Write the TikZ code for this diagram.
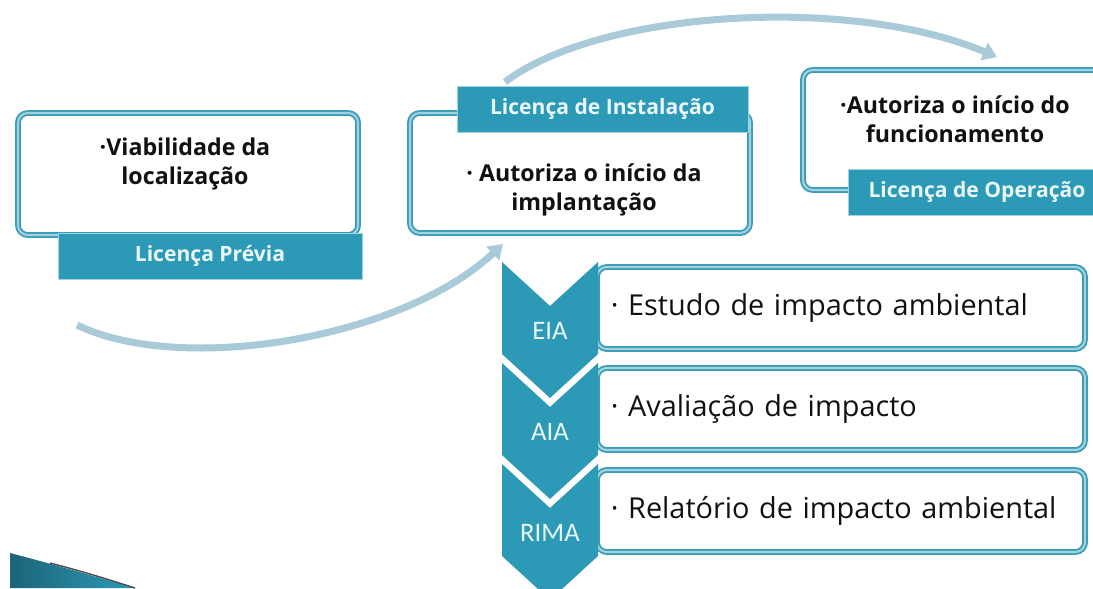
\documentclass[tikz,border=0pt]{standalone}
\usepackage{fontspec}
\setmainfont{Open Sans}
\newfontfamily\chevfont{Carlito}
\usetikzlibrary{arrows.meta,positioning}

\definecolor{tealfill}{HTML}{2C9AB7}
\definecolor{tealline}{HTML}{3A9CB5}
\definecolor{tealpale}{HTML}{9FD3E0}
\definecolor{arcblue}{HTML}{A9CAD8}
\definecolor{labeltxt}{HTML}{E9F7F9}
\definecolor{bodytxt}{HTML}{111111}

\begin{document}
\begin{tikzpicture}[x=0.025cm,y=-0.025cm,
  licbox/.style={draw=tealline, double=tealpale, double distance=1.5pt, line width=1.3pt, rounded corners=7pt, fill=white, inner sep=0pt},
  lictag/.style={fill=tealfill, draw=tealpale, line width=0.6pt, text=labeltxt, font=\bfseries\fontsize{15}{18}\selectfont, inner sep=0pt, minimum height=1.15cm},
  bodytext/.style={text=bodytxt, font=\bfseries\fontsize{16.5}{21}\selectfont, align=center},
  stepbox/.style={licbox, minimum width=12.2cm, minimum height=2.05cm, text width=11.5cm, align=left, text=bodytxt, font=\fontsize{20.5}{24}\selectfont},
  chevtext/.style={text=labeltxt, font=\chevfont\fontsize{19}{22}\selectfont},
  arc/.style={draw=arcblue, line width=5pt, -{Triangle[width=13pt,length=10pt]}},
]
\useasboundingbox (0,0) rectangle (1093,588);
\clip (0,0) rectangle (1093,588);

% arcs between the licences
\coordinate (arcastart) at (77,325);
\coordinate (arcaend) at (503,244);
\coordinate (arcbstart) at (505,82);
\coordinate (arcbend) at (997,57);
\draw[arc] (arcastart) .. controls (180,375) and (400,340) .. (arcaend);
\draw[arc] (arcbstart) .. controls (600,10) and (850,-5) .. (arcbend);

% licence boxes
\node[licbox, minimum width=8.5cm, minimum height=3.05cm] (viab) at (188,174) {};
\node[lictag, minimum width=7.6cm] (previa) at (210,256) {Licença Prévia};
\node[bodytext] (viabtxt) at (185,164) {·Viabilidade da\\localização};

\node[licbox, minimum width=8.5cm, minimum height=3cm] (impl) at (580,173) {};
\node[lictag, minimum width=7.275cm] (instal) at (602.5,109.5) {Licença de Instalação};
\node[bodytext] (impltxt) at (584,190) {· Autoriza o início da\\implantação};

\node[licbox, minimum width=7.6cm, minimum height=3cm] (func) at (955,130) {};
\node[lictag, minimum width=6.45cm] (operacao) at (977,192.5) {Licença de Operação};
\node[bodytext] (functxt) at (955,119) {·Autoriza o início do\\funcionamento};

% studies
\node[stepbox] (estudo) at (841,308) {· Estudo de impacto ambiental};
\node[stepbox] (avalia) at (841,409) {· Avaliação de impacto};
\node[stepbox] (relat) at (841,511) {· Relatório de impacto ambiental};

\foreach \name/\t/\lbl in {eia/262/EIA, aia/363/AIA, rima/464/RIMA}{
  \fill[tealfill] (502,\t) -- (550,\t+44) -- (598,\t) -- (598,\t+92) -- (550,\t+136) -- (502,\t+92) -- cycle;
  \node[chevtext] (\name) at (550,\t+69) {\lbl};
}

% corner swoosh
\shade[left color=tealfill!65!black, right color=tealfill] (10,553) .. controls (60,566) and (100,578) .. (135,588) -- (10,588) -- cycle;
\draw[black!70, line width=1pt] (50,563) .. controls (85,572) and (110,580) .. (135,588);
\end{tikzpicture}
\end{document}
